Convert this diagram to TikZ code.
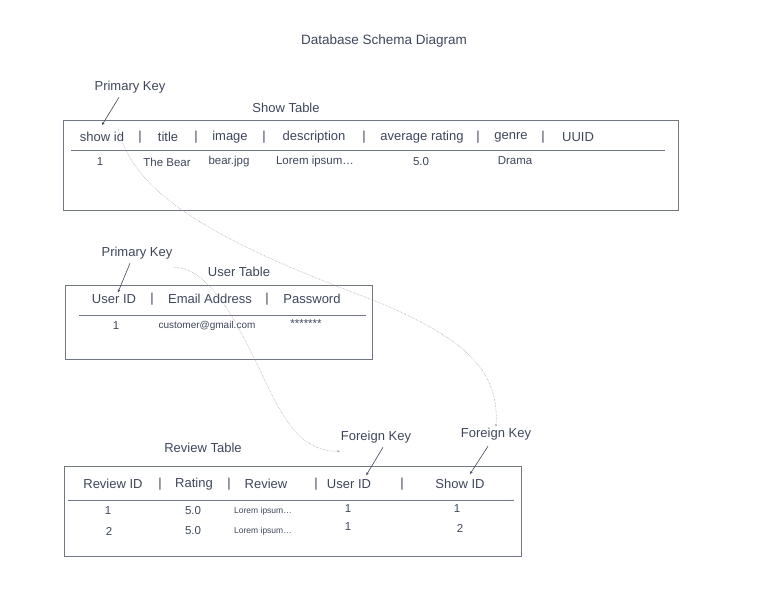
\documentclass[tikz,border=0pt]{standalone}
\usepackage{fontspec}
\setmainfont{Liberation Sans}
\usepackage{xcolor}
\usetikzlibrary{arrows.meta, positioning}
\definecolor{slate}{RGB}{62,70,90}
\definecolor{frame}{RGB}{112,118,132}
\definecolor{wire}{RGB}{150,150,150}

\begin{document}
\begin{tikzpicture}[x=1pt, y=-1pt,
  every node/.style={text=slate, inner sep=1pt},
  heading/.style={font=\fontsize{13}{15}\selectfont},
  field/.style={font=\fontsize{13}{15}\selectfont},
  entry/.style={font=\fontsize{11.5}{13}\selectfont},
  small entry/.style={font=\fontsize{10}{12}\selectfont},
  tiny entry/.style={font=\fontsize{8.5}{10}\selectfont},
  tablebox/.style={draw=frame, line width=0.9pt},
  rule/.style={draw=frame, line width=0.9pt},
  keyarrow/.style={draw=slate, line width=0.6pt, -{Stealth[length=3pt,width=2.5pt]}},
  link/.style={draw=wire, line width=0.5pt, densely dotted, -{Stealth[length=2.5pt,width=2pt]}}]
\useasboundingbox (0,0) rectangle (765,597);

\node[heading, font=\fontsize{13.5}{15}\selectfont] (title) at (384,41) {Database Schema Diagram};

% show table
\node[heading] (pkshow) at (130,87) {Primary Key};
\node[heading] (showname) at (286,108) {Show Table};
\draw[tablebox] (63,120) rectangle (678,210);
\foreach \x/\t [count=\i] in {102/show id, 140/|, 168/title, 196/|, 230/image, 264/|, 314/description, 364/|, 422/average rating, 478/|, 511/genre, 543/|, 578/UUID}
  \node[field] (show\i) at (\x,137) {\t};
\draw[rule] (71,150) -- (665,150);
\foreach \x/\y/\t [count=\i] in {100/162/1, 167/162/The Bear, 229/162/bear.jpg, 315/162/Lorem ipsum\ldots, 421/162/5.0, 515/161/Drama}
  \node[entry] (showrow\i) at (\x,\y) {\t};

% user table
\node[heading] (pkuser) at (137,253) {Primary Key};
\node[heading] (username) at (239,272) {User Table};
\draw[tablebox] (65,285) rectangle (372,359);
\foreach \x/\t [count=\i] in {114/User ID, 152/|, 210/Email Address, 267/|, 312/Password}
  \node[field] (user\i) at (\x,299) {\t};
\draw[rule] (79,315) -- (366,315);
\node[entry] (userrow1) at (116,326) {1};
\node[small entry] (userrow2) at (207,326) {customer@gmail.com};
\node[entry] (userrow3) at (306,324) {*******};

% review table
\node[heading] (reviewname) at (203,448) {Review Table};
\node[heading] (fkuser) at (376,437) {Foreign Key};
\node[heading] (fkshow) at (496,434) {Foreign Key};
\draw[tablebox] (64,466) rectangle (521,556);
\foreach \x/\t [count=\i] in {113/Review ID, 160/|, 194/Rating, 229/|, 266/Review, 316/|, 349/User ID, 402/|, 460/Show ID}
  \node[field] (rev\i) at (\x,484) {\t};
\draw[rule] (68,500) -- (514,500);
\foreach \x/\y/\t [count=\i] in {108/511/1, 193/511/5.0, 348/509/1, 457/509/1, 109/531/2, 193/531/5.0, 348/527/1, 460/528/2}
  \node[entry] (revrow\i) at (\x,\y) {\t};
\node[tiny entry] (revtext1) at (263,511) {Lorem ipsum\ldots};
\node[tiny entry] (revtext2) at (263,531) {Lorem ipsum\ldots};

% key arrows
\draw[keyarrow] ([xshift=-11pt,yshift=-3pt]pkshow.south) -- ([yshift=6pt]show1.north);
\draw[keyarrow] ([xshift=-7pt,yshift=-3pt]pkuser.south) -- ([xshift=4pt,yshift=1pt]user1.north);
\draw[keyarrow] ([xshift=7pt,yshift=-3pt]fkuser.south) -- ([xshift=-6pt,yshift=3pt]rev7.north east);
\draw[keyarrow] ([xshift=-8pt,yshift=-5pt]fkshow.south) -- ([xshift=10pt,yshift=4pt]rev9.north);

% links between keys
\coordinate (bendshow) at (373,300);
\coordinate (benduser) at (260,370);
\draw[link] ([xshift=-7pt,yshift=2pt]show1.north east) .. controls +(17,73) and +(-133,-50) .. (bendshow)
  .. controls +(97,40) and +(3,-54) .. (fkshow.north);
\draw[link] ([yshift=-7pt]pkuser.south east) .. controls +(38,0) and +(-20,-40) .. (benduser)
  .. controls +(25,55) and +(-37,0) .. ([yshift=-7pt]fkuser.south west);
\end{tikzpicture}
\end{document}
